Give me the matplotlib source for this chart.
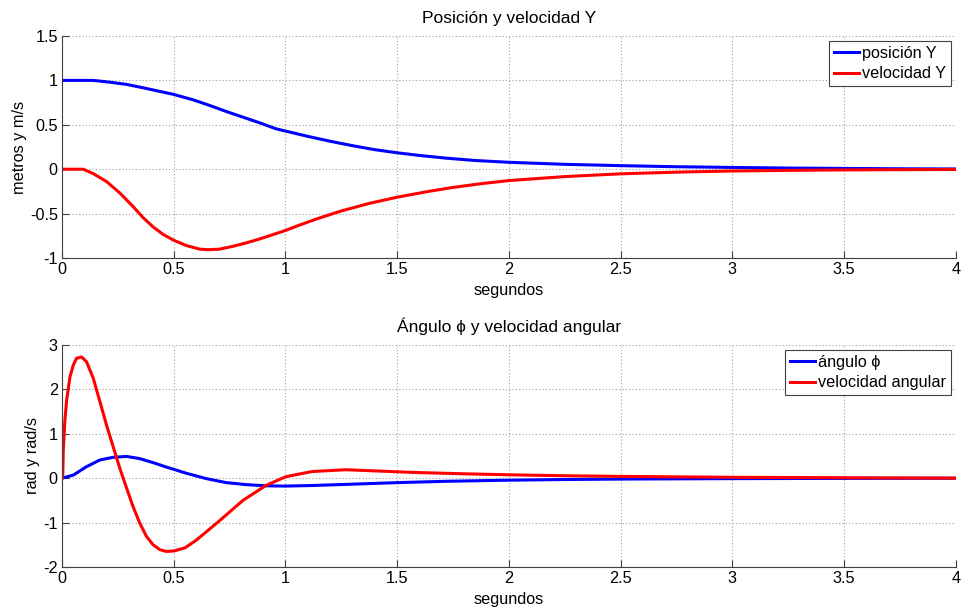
import matplotlib.pyplot as plt

plt.rcParams['font.family'] = ['Liberation Sans', 'DejaVu Sans']

# Subplot 1: position and velocity in Y
t_pos = [0, 0.14, 0.214, 0.289, 0.363, 0.438, 0.5, 0.586, 0.661, 0.735, 0.81, 0.884,
         0.958, 1.0, 1.1, 1.2, 1.3, 1.4, 1.5, 1.6, 1.717, 1.85, 2.0, 2.25, 2.5, 2.75,
         3.0, 3.25, 3.5, 3.75, 4.0]
pos_y = [1.0, 1.0, 0.98, 0.955, 0.917, 0.876, 0.842, 0.782, 0.718, 0.65, 0.586, 0.523,
         0.455, 0.43, 0.37, 0.315, 0.265, 0.22, 0.185, 0.155, 0.125, 0.098, 0.078,
         0.055, 0.04, 0.028, 0.02, 0.013, 0.009, 0.005, 0.003]

t_vel = [0, 0.095, 0.14, 0.2, 0.26, 0.318, 0.363, 0.408, 0.452, 0.5, 0.557, 0.616,
         0.653, 0.705, 0.765, 0.824, 0.884, 0.943, 1.0, 1.062, 1.144, 1.25, 1.375, 1.5,
         1.64, 1.75, 1.875, 2.0, 2.25, 2.5, 2.75, 3.0, 3.25, 3.5, 3.75, 4.0]
vel_y = [0.0, 0.0, -0.05, -0.14, -0.27, -0.42, -0.545, -0.65, -0.733, -0.80, -0.86,
         -0.90, -0.906, -0.90, -0.868, -0.83, -0.786, -0.737, -0.69, -0.63, -0.556,
         -0.47, -0.385, -0.315, -0.25, -0.205, -0.163, -0.128, -0.083, -0.052, -0.033,
         -0.02, -0.013, -0.008, -0.005, -0.003]

# Subplot 2: angle phi and angular velocity
t_ang = [0, 0.051, 0.11, 0.17, 0.229, 0.289, 0.348, 0.408, 0.438, 0.467, 0.5, 0.557,
         0.646, 0.735, 0.824, 0.914, 1.0, 1.12, 1.27, 1.5, 1.72, 2.0, 2.25, 2.5, 3.0,
         3.5, 4.0]
ang_phi = [0.0, 0.07, 0.26, 0.41, 0.47, 0.49, 0.44, 0.35, 0.30, 0.25, 0.20, 0.11,
           -0.01, -0.10, -0.145, -0.172, -0.178, -0.165, -0.14, -0.10, -0.07, -0.045,
           -0.03, -0.02, -0.01, -0.005, 0.0]

t_w = [0, 0.003, 0.006, 0.013, 0.021, 0.036, 0.051, 0.065, 0.088, 0.11, 0.14, 0.17,
       0.199, 0.229, 0.259, 0.289, 0.318, 0.348, 0.378, 0.408, 0.438, 0.467, 0.5,
       0.55, 0.6, 0.7, 0.81, 0.914, 0.973, 1.0, 1.048, 1.12, 1.27, 1.42, 1.57, 1.79,
       2.0, 2.25, 2.5, 3.0, 3.5, 4.0]
vel_ang = [0.0, 0.0, 0.64, 1.31, 1.76, 2.29, 2.55, 2.70, 2.73, 2.62, 2.25, 1.72,
           1.20, 0.71, 0.22, -0.22, -0.64, -1.01, -1.31, -1.50, -1.61, -1.65, -1.64,
           -1.57, -1.40, -0.98, -0.5, -0.16, -0.03, 0.03, 0.08, 0.15, 0.19, 0.16, 0.13,
           0.10, 0.076, 0.055, 0.04, 0.02, 0.01, 0.0]

fig = plt.figure(figsize=(9.61, 6.10), dpi=100)
ax1 = fig.add_axes([0.0645, 0.577, 0.930, 0.364])
ax2 = fig.add_axes([0.0645, 0.0705, 0.930, 0.364])

panels = [
    (ax1, t_pos, pos_y, t_vel, vel_y, 'posición Y', 'velocidad Y',
     'Posición y velocidad Y', 'metros y m/s', (-1, 1.5), [-1, -0.5, 0, 0.5, 1, 1.5]),
    (ax2, t_ang, ang_phi, t_w, vel_ang, 'ángulo ϕ', 'velocidad angular',
     'Ángulo ϕ y velocidad angular', 'rad y rad/s', (-2, 3), [-2, -1, 0, 1, 2, 3]),
]

for ax, ta, a, tb, b, la, lb, title, ylab, ylim, yt in panels:
    ax.plot(ta, a, color='#0000ff', lw=2.2, label=la, solid_joinstyle='round')
    ax.plot(tb, b, color='#ff0000', lw=2.2, label=lb, solid_joinstyle='round')
    ax.set_xlim(0, 4)
    ax.set_ylim(*ylim)
    ax.set_xticks([0, 0.5, 1, 1.5, 2, 2.5, 3, 3.5, 4])
    ax.set_xticklabels(['0', '0.5', '1', '1.5', '2', '2.5', '3', '3.5', '4'])
    ax.set_yticks(yt)
    ax.set_yticklabels([f'{v:g}' for v in yt])
    ax.grid(True, linestyle=(0, (1, 2)), color='#a0a0a0', lw=0.8)
    for s in ['top', 'right']:
        ax.spines[s].set_visible(False)
    for s in ['left', 'bottom']:
        ax.spines[s].set_color('#404040')
    ax.tick_params(direction='in', length=5, colors='#404040', labelcolor='black',
                   labelsize=11.7, pad=3)
    ax.set_title(title, fontsize=12.5, pad=9)
    ax.set_xlabel('segundos', fontsize=11.7, labelpad=4)
    ax.set_ylabel(ylab, fontsize=11.7, labelpad=2)
    leg = ax.legend(loc='upper right', fontsize=11.7, fancybox=False, framealpha=1,
                    edgecolor='#404040', handlelength=1.5, handletextpad=0.2,
                    borderpad=0.3, labelspacing=0.35, borderaxespad=0.3)
    leg.get_frame().set_linewidth(0.8)

fig.savefig('out.png', dpi=100)
